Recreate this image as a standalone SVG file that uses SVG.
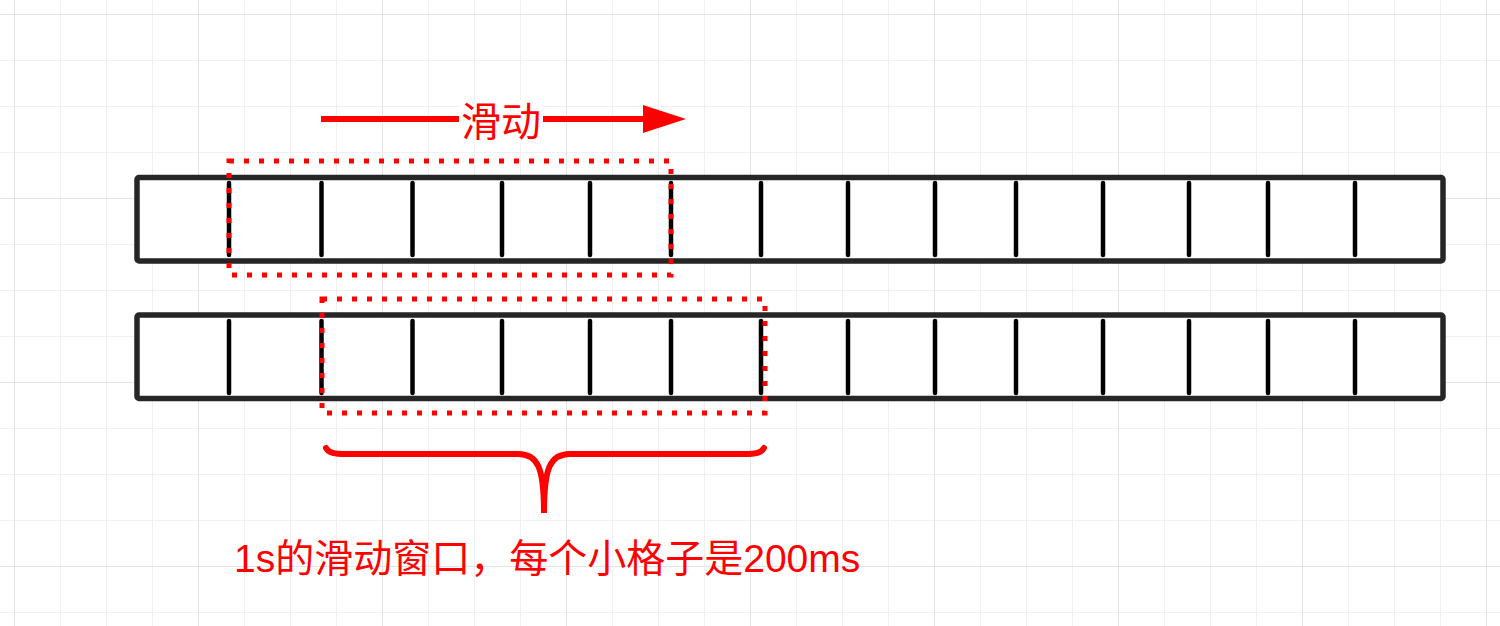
<svg xmlns="http://www.w3.org/2000/svg" width="1500" height="626" viewBox="0 0 1500 626">
<style>
.bar{fill:#fff;stroke:#262626;stroke-width:5.5}
.div{stroke:#000;stroke-width:4.5;stroke-linecap:round}
.win{fill:none;stroke:#ff0000;stroke-width:5;stroke-dasharray:5 10}
.red{fill:none;stroke:#ff0000;stroke-width:6}
.txt{fill:#ff0000;font-family:"Liberation Sans","Noto Sans CJK SC",sans-serif}
</style>
<defs>
<pattern id="minor" x="14" y="14" width="46" height="46" patternUnits="userSpaceOnUse">
<path d="M0,0V46M0,0H46" stroke="#f0f0f0" stroke-width="2" fill="none"/>
</pattern>
<pattern id="major" x="14" y="14" width="184" height="184" patternUnits="userSpaceOnUse">
<path d="M0,0V184M0,0H184" stroke="#e4e4e4" stroke-width="2" fill="none"/>
</pattern>
</defs>
<rect width="1500" height="626" fill="#fff"/>
<rect width="1500" height="626" fill="url(#minor)"/>
<rect width="1500" height="626" fill="url(#major)"/>

<g id="bar-top">
<rect class="bar" x="137" y="177.5" width="1306" height="83.5" rx="2"/>
<g class="div">
<line x1="229" y1="183" x2="229" y2="255"/><line x1="321.5" y1="183" x2="321.5" y2="255"/><line x1="412.5" y1="183" x2="412.5" y2="255"/><line x1="502" y1="183" x2="502" y2="255"/><line x1="590" y1="183" x2="590" y2="255"/><line x1="671" y1="183" x2="671" y2="255"/><line x1="761" y1="183" x2="761" y2="255"/><line x1="848" y1="183" x2="848" y2="255"/><line x1="935" y1="183" x2="935" y2="255"/><line x1="1016" y1="183" x2="1016" y2="255"/><line x1="1103" y1="183" x2="1103" y2="255"/><line x1="1189" y1="183" x2="1189" y2="255"/><line x1="1268" y1="183" x2="1268" y2="255"/><line x1="1355" y1="183" x2="1355" y2="255"/>
</g>
</g>

<g id="bar-bottom">
<rect class="bar" x="137" y="315" width="1306" height="83.5" rx="2"/>
<g class="div">
<line x1="229" y1="321" x2="229" y2="393"/><line x1="321.5" y1="321" x2="321.5" y2="393"/><line x1="412.5" y1="321" x2="412.5" y2="393"/><line x1="502" y1="321" x2="502" y2="393"/><line x1="590" y1="321" x2="590" y2="393"/><line x1="671" y1="321" x2="671" y2="393"/><line x1="761" y1="321" x2="761" y2="393"/><line x1="848" y1="321" x2="848" y2="393"/><line x1="935" y1="321" x2="935" y2="393"/><line x1="1016" y1="321" x2="1016" y2="393"/><line x1="1103" y1="321" x2="1103" y2="393"/><line x1="1189" y1="321" x2="1189" y2="393"/><line x1="1268" y1="321" x2="1268" y2="393"/><line x1="1355" y1="321" x2="1355" y2="393"/>
</g>
</g>

<g id="window-top">
<rect class="win" x="229" y="161" width="442" height="114"/>
</g>
<g id="window-bottom">
<rect class="win" x="322" y="299" width="443" height="114"/>
</g>

<g id="connectors">
<line x1="321" y1="119" x2="645" y2="119" stroke="#ff0000" stroke-width="6"/>
<polygon points="643,105 686,119 643,133" fill="#ff0000"/>
<path class="red" stroke-linecap="round" d="M326,448 C329,453 334,454 346,454 L518,454 C538,454 544,468 544,513 C544,468 550,454 570,454 L744,454 C756,454 761,453 764,448"/>
</g>

<g id="label-slide">
<rect x="459" y="100" width="84" height="42" fill="#fff"/>
<text class="txt" x="501" y="122" font-size="40" text-anchor="middle" dominant-baseline="central">滑动</text>
</g>
<g id="label-window">
<text class="txt" x="234" y="572" font-size="39">1s的滑动窗口，每个小格子是200ms</text>
</g>
</svg>
